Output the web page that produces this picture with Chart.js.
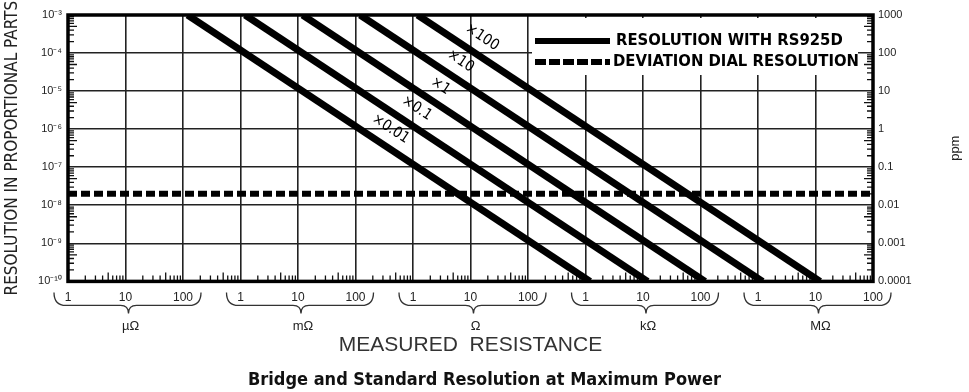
<!DOCTYPE html>
<html>
<head>
<meta charset="utf-8">
<script src="https://cdn.jsdelivr.net/npm/chart.js@4/dist/chart.umd.min.js"></script>
<style>
  html, body { margin: 0; padding: 0; background: #fff; }
  canvas { display: block; }
</style>
</head>
<body>
<canvas id="myChart" width="969" height="392"></canvas>
<script>
// Resistance ticks (ohms), one per decade, and what is printed under them
var xTickValues = [1e-6, 1e-5, 1e-4, 1e-3, 1e-2, 1e-1, 1, 10, 100, 1e3, 1e4, 1e5, 1e6, 1e7, 1e8];
var xTickLabels = ['1', '10', '100', '1', '10', '100', '1', '10', '100', '1', '10', '100', '1', '10', '100'];

// Unit groups under the resistance axis (first decade of each group)
var unitLabels = ['µΩ', 'mΩ', 'Ω', 'kΩ', 'MΩ'];
var unitStarts = [1e-6, 1e-3, 1, 1e3, 1e6];

// Resolution ticks (proportional parts) and the same values in ppm
var yTickValues = [1e-10, 1e-9, 1e-8, 1e-7, 1e-6, 1e-5, 1e-4, 1e-3];
var yTickLabels = ['10⁻¹⁰', '10⁻⁹', '10⁻⁸', '10⁻⁷', '10⁻⁶', '10⁻⁵', '10⁻⁴', '10⁻³'];
var ppmTickLabels = ['0.0001', '0.001', '0.01', '0.1', '1', '10', '100', '1000'];

// RS925D resolution lines: resistance where each line meets top and bottom of the plot
var multipliers = ['×0.01', '×0.1', '×1', '×10', '×100'];
var lineTopRes = 1e-3;
var lineBottomRes = 1e-10;
var lineTopR = [1.2e-4, 1.2e-3, 1.2e-2, 1.2e-1, 1.2];
var lineBottomR = [1.2e3, 1.2e4, 1.2e5, 1.2e6, 1.2e7];
// resolution at which each multiplier label sits along its line
var labelRes = [4.3e-7, 1.5e-6, 5.8e-6, 2.6e-5, 1.1e-4];

// Deviation dial resolution (flat)
var dialRes = 2e-8;

var legendLabels = ['RESOLUTION WITH RS925D', 'DEVIATION DIAL RESOLUTION'];

var NARROW = "'Liberation Sans Narrow', 'DejaVu Sans Condensed', 'Liberation Sans', sans-serif";
var PLAIN = "'Liberation Sans', Arial, sans-serif";

// build datasets
var datasets = [];
for (var i = 0; i < multipliers.length; i++) {
  datasets.push({
    label: multipliers[i],
    data: [{x: lineTopR[i], y: lineTopRes}, {x: lineBottomR[i], y: lineBottomRes}],
    borderColor: '#000',
    borderWidth: 7,
    borderCapStyle: 'butt',
    pointRadius: 0,
    clip: 0
  });
}
datasets.push({
  label: legendLabels[1],
  data: [{x: xTickValues[0], y: dialRes}, {x: xTickValues[xTickValues.length - 1], y: dialRes}],
  borderColor: '#000',
  borderWidth: 6,
  borderDash: [9, 4],
  borderCapStyle: 'butt',
  pointRadius: 0,
  clip: 0
});

function setTicks(values) {
  return function(scale) {
    scale.ticks = values.map(function(v) { return {value: v}; });
  };
}

// small tick marks inside the frame, 2..9 of each decade
var minorTicks = {
  id: 'minorTicks',
  beforeDatasetsDraw: function(chart) {
    var ctx = chart.ctx, a = chart.chartArea;
    var xs = chart.scales.x, ys = chart.scales.y;
    ctx.save();
    ctx.strokeStyle = '#111';
    ctx.lineWidth = 1.3;
    ctx.beginPath();
    for (var e = -6; e < 8; e++) {
      for (var k = 2; k < 10; k++) {
        var px = xs.getPixelForValue(k * Math.pow(10, e));
        var len = k == 5 ? 9 : 6;
        ctx.moveTo(px, a.bottom);
        ctx.lineTo(px, a.bottom - len);
      }
    }
    for (var e2 = -10; e2 < -3; e2++) {
      for (var k2 = 2; k2 < 10; k2++) {
        var py = ys.getPixelForValue(k2 * Math.pow(10, e2));
        var len2 = k2 == 5 ? 9 : 6;
        ctx.moveTo(a.left, py);
        ctx.lineTo(a.left + len2, py);
        ctx.moveTo(a.right, py);
        ctx.lineTo(a.right - len2, py);
      }
    }
    ctx.stroke();
    ctx.restore();
  }
};

// frame, line labels and legend box
var decorations = {
  id: 'decorations',
  afterDatasetsDraw: function(chart) {
    var ctx = chart.ctx, a = chart.chartArea;
    var ys = chart.scales.y;
    ctx.save();
    ctx.strokeStyle = '#000';
    ctx.lineWidth = 3.5;
    ctx.strokeRect(a.left, a.top, a.right - a.left, a.bottom - a.top);

    // multiplier labels along each line
    ctx.fillStyle = '#000';
    ctx.font = '15px ' + NARROW;
    ctx.textAlign = 'center';
    ctx.textBaseline = 'middle';
    for (var i = 0; i < multipliers.length; i++) {
      var pts = chart.getDatasetMeta(i).data;
      var p0 = pts[0], p1 = pts[1];
      var ang = Math.atan2(p1.y - p0.y, p1.x - p0.x);
      var y = ys.getPixelForValue(labelRes[i]);
      var t = (y - p0.y) / (p1.y - p0.y);
      var x = p0.x + t * (p1.x - p0.x);
      ctx.save();
      ctx.translate(x + 17 * Math.sin(ang), y - 17 * Math.cos(ang));
      ctx.rotate(ang);
      ctx.fillText(multipliers[i], 0, 0);
      ctx.restore();
    }

    // legend
    var bx = a.right - 341, by = a.top + 3, bw = 326, bh = 57;
    ctx.fillStyle = '#fff';
    ctx.fillRect(bx, by, bw, bh);
    ctx.strokeStyle = '#000';
    ctx.lineWidth = 6;
    ctx.beginPath();
    ctx.moveTo(bx + 3, by + 23);
    ctx.lineTo(bx + 78, by + 23);
    ctx.stroke();
    ctx.setLineDash([11, 3]);
    ctx.beginPath();
    ctx.moveTo(bx + 3, by + 44);
    ctx.lineTo(bx + 78, by + 44);
    ctx.stroke();
    ctx.setLineDash([]);
    ctx.fillStyle = '#000';
    ctx.font = 'bold 16.5px ' + NARROW;
    ctx.textAlign = 'left';
    ctx.fillText(legendLabels[0], bx + 84, by + 23);
    ctx.fillText(legendLabels[1], bx + 81, by + 44);
    ctx.restore();
  },
  afterDraw: function(chart) {
    var ctx = chart.ctx, a = chart.chartArea;
    var xs = chart.scales.x;
    ctx.save();
    // braces under each unit group
    ctx.strokeStyle = '#333';
    ctx.lineWidth = 1.3;
    ctx.fillStyle = '#222';
    ctx.font = '13px ' + PLAIN;
    ctx.textAlign = 'center';
    ctx.textBaseline = 'middle';
    var yTop = a.bottom + 11, yFlat = a.bottom + 24, yTip = a.bottom + 32;
    for (var i = 0; i < unitLabels.length; i++) {
      var x0 = xs.getPixelForValue(unitStarts[i]) - 14;
      var x1 = xs.getPixelForValue(unitStarts[i] * 100) + 18;
      var xm = xs.getPixelForValue(unitStarts[i] * 10) + 3;
      ctx.beginPath();
      ctx.moveTo(x0, yTop);
      ctx.quadraticCurveTo(x0, yFlat, x0 + 12, yFlat);
      ctx.lineTo(xm - 8, yFlat);
      ctx.quadraticCurveTo(xm, yFlat, xm, yTip);
      ctx.quadraticCurveTo(xm, yFlat, xm + 8, yFlat);
      ctx.lineTo(x1 - 12, yFlat);
      ctx.quadraticCurveTo(x1, yFlat, x1, yTop);
      ctx.stroke();
      ctx.fillText(unitLabels[i], xm + 2, a.bottom + 45);
    }
    // ppm title for the right axis
    ctx.font = '13px ' + PLAIN;
    ctx.translate(955, (a.top + a.bottom) / 2);
    ctx.rotate(-Math.PI / 2);
    ctx.fillText('ppm', 0, 0);
    ctx.restore();
  }
};

var ctx = document.getElementById('myChart');

var myChart = new Chart(ctx, {
  type: 'line',
  data: {datasets: datasets},
  options: {
    responsive: false,
    animation: false,
    devicePixelRatio: 1,
    layout: {padding: {top: 15, left: 0, right: 0, bottom: 0}},
    plugins: {
      legend: {display: false},
      tooltip: {enabled: false},
      title: {
        display: true,
        position: 'bottom',
        text: 'Bridge and Standard Resolution at Maximum Power',
        color: '#111',
        font: {family: NARROW, size: 18, weight: 'bold'},
        padding: {top: 9, bottom: 1}
      }
    },
    scales: {
      x: {
        type: 'logarithmic',
        position: 'bottom',
        min: 1e-6,
        max: 1e8,
        afterBuildTicks: setTicks(xTickValues),
        afterFit: function(s) { s.height = 79; },
        ticks: {
          autoSkip: false,
          maxRotation: 0,
          padding: 9,
          color: '#222',
          font: {family: PLAIN, size: 12},
          callback: function(v, i) { return xTickLabels[i]; }
        },
        grid: {color: '#222', lineWidth: 1.6, drawTicks: false},
        border: {display: false},
        title: {
          display: true,
          text: 'MEASURED  RESISTANCE',
          color: '#333',
          font: {family: PLAIN, size: 21},
          padding: {top: 0, bottom: 3}
        }
      },
      y: {
        type: 'logarithmic',
        position: 'left',
        min: 1e-10,
        max: 1e-3,
        afterBuildTicks: setTicks(yTickValues),
        afterFit: function(s) { s.width = 68; },
        ticks: {
          autoSkip: false,
          padding: 6,
          color: '#222',
          font: {family: PLAIN, size: 11},
          callback: function(v, i) { return yTickLabels[i]; }
        },
        grid: {color: '#222', lineWidth: 1.6, drawTicks: false},
        border: {display: false},
        title: {
          display: true,
          text: 'RESOLUTION IN PROPORTIONAL PARTS',
          color: '#222',
          font: {family: NARROW, size: 17},
          padding: {top: 2, bottom: 0}
        }
      },
      y2: {
        type: 'logarithmic',
        position: 'right',
        min: 1e-10,
        max: 1e-3,
        afterBuildTicks: setTicks(yTickValues),
        afterFit: function(s) { s.width = 96; },
        ticks: {
          autoSkip: false,
          padding: 5,
          color: '#222',
          font: {family: PLAIN, size: 11},
          callback: function(v, i) { return ppmTickLabels[i]; }
        },
        grid: {drawOnChartArea: false, drawTicks: false},
        border: {display: false}
      }
    }
  },
  plugins: [minorTicks, decorations]
});
</script>
</body>
</html>
